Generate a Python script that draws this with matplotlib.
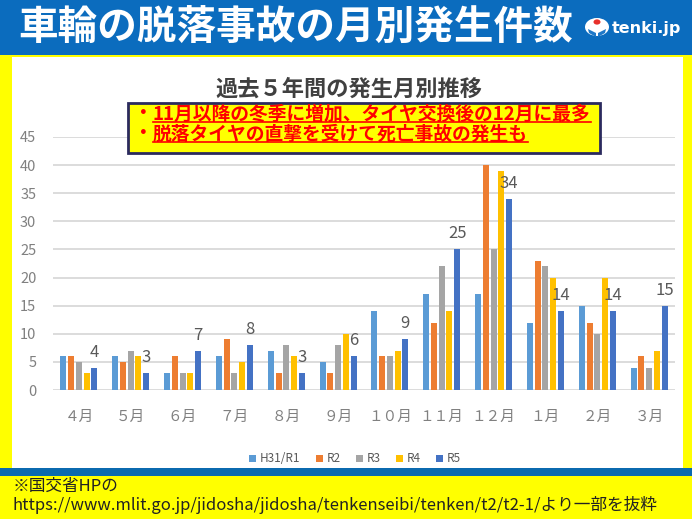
import matplotlib
matplotlib.use("Agg")
import matplotlib.pyplot as plt
import numpy as np
from matplotlib.patches import Rectangle, Circle, Polygon
from matplotlib.lines import Line2D

plt.rcParams['font.family'] = ['Noto Sans CJK JP', 'DejaVu Sans']

# data
months = ["４月", "５月", "６月", "７月", "８月", "９月", "１０月", "１１月", "１２月", "１月", "２月", "３月"]
years = ["H31/R1", "R2", "R3", "R4", "R5"]
h31_r1 = [6, 6, 3, 6, 7, 5, 14, 17, 17, 12, 15, 4]
r2 = [6, 5, 6, 9, 3, 3, 6, 12, 40, 23, 12, 6]
r3 = [5, 7, 3, 3, 8, 8, 6, 22, 25, 22, 10, 4]
r4 = [3, 6, 3, 5, 6, 10, 7, 14, 39, 20, 20, 7]
r5 = [4, 3, 7, 8, 3, 6, 9, 25, 34, 14, 14, 15]
colors = ["#5B9BD5", "#ED7D31", "#A5A5A5", "#FFC000", "#4472C4"]

W, H = 692, 519


def fx(x):
    return x / W


def fy(y):
    return 1 - y / H


fig = plt.figure(figsize=(W / 100, H / 100), dpi=100)
fig.patch.set_facecolor("white")

# frame: yellow border, blue title bar, footer
fig.add_artist(Rectangle((0, 0), 1, 1, transform=fig.transFigure, facecolor="#FFFF00", edgecolor="none", zorder=0))
fig.add_artist(Rectangle((fx(12), fy(468)), fx(683) - fx(12), fy(57) - fy(468), transform=fig.transFigure,
                         facecolor="white", edgecolor="none", zorder=0))
fig.add_artist(Rectangle((0, fy(55)), 1, 1 - fy(55), transform=fig.transFigure, facecolor="#0B6CBE", edgecolor="none", zorder=1))
fig.add_artist(Rectangle((0, fy(476)), 1, fy(468) - fy(476), transform=fig.transFigure, facecolor="#0B6AAF", edgecolor="none", zorder=1))

fig.text(fx(18), fy(28), "車輪の脱落事故の月別発生件数", color="white", fontsize=28.5, fontweight="bold",
         ha="left", va="center", zorder=3)

# tenki.jp logo
fig.add_artist(Circle((fx(597), fy(27)), 12 / W, transform=fig.transFigure, facecolor="white", edgecolor="none", zorder=3))
fig.add_artist(Circle((fx(597), fy(22)), 3.5 / W, transform=fig.transFigure, facecolor="#E8302A", edgecolor="none", zorder=4))
fig.add_artist(Polygon([(fx(588), fy(29)), (fx(596), fy(33)), (fx(596), fy(37)), (fx(589), fy(33))], closed=True,
                       transform=fig.transFigure, facecolor="#1E78C8", edgecolor="none", zorder=4))
fig.add_artist(Polygon([(fx(606), fy(29)), (fx(598), fy(33)), (fx(598), fy(37)), (fx(605), fy(33))], closed=True,
                       transform=fig.transFigure, facecolor="#1E78C8", edgecolor="none", zorder=4))
fig.text(fx(612), fy(29), "tenki.jp", color="white", fontsize=11.5, fontweight="bold", family="DejaVu Sans",
         ha="left", va="center", zorder=3)

# chart
ax = fig.add_axes([fx(53), fy(390), fx(675) - fx(53), fy(137) - fy(390)])
ax.set_facecolor("none")
x = np.arange(len(months))
series = [h31_r1, r2, r3, r4, r5]
step = 0.149
for i, (vals, name) in enumerate(zip(series, years)):
    ax.bar(x + (i - 2) * step, vals, width=0.116, color=colors[i], label=name, zorder=3)

for xi, v in zip(x, r5):
    ax.annotate(str(v), (xi + 2 * step, v), xytext=(0, 5), textcoords="offset points",
                ha="center", va="bottom", fontsize=12, color="#595959")

ax.set_xlim(-0.5, len(months) - 0.5)
ax.set_ylim(0, 45)
ax.set_yticks(range(0, 46, 5))
ax.grid(axis="y", color="#D9D9D9", linewidth=1.3, zorder=0)
for s in ax.spines.values():
    s.set_visible(False)
ax.tick_params(axis="y", length=0, pad=12, labelsize=10.5, labelcolor="#808080")
ax.tick_params(axis="x", length=0, pad=14, labelsize=10.5, labelcolor="#808080")
ax.set_xticks(x)
ax.set_xticklabels(months)

fig.legend(loc="center", bbox_to_anchor=(fx(355), fy(459)), ncol=5, frameon=False, fontsize=8.5,
           handlelength=0.6, handleheight=0.6, handletextpad=0.3, columnspacing=1.3, labelcolor="#595959")

fig.text(fx(349), fy(89), "過去５年間の発生月別推移", color="#404040", fontsize=16, fontweight="bold",
         ha="center", va="center")

# annotation box
fig.add_artist(Rectangle((fx(128), fy(153)), fx(600) - fx(128), fy(103) - fy(153), transform=fig.transFigure,
                         facecolor="#FFFF00", edgecolor="#2B2A5E", linewidth=2, zorder=5))
notes = ["11月以降の冬季に増加、タイヤ交換後の12月に最多", "脱落タイヤの直撃を受けて死亡事故の発生も"]
note_texts = []
for line, yy in zip(notes, [114, 134]):
    fig.text(fx(134), fy(yy), "・", color="#FF0000", fontsize=13.5, fontweight="bold", ha="left", va="center", zorder=6)
    t = fig.text(fx(153), fy(yy), line, color="#FF0000", fontsize=13.5, fontweight="bold", ha="left", va="center", zorder=6)
    note_texts.append(t)

# footer
fig.text(fx(13), fy(486), "※国交省HPの", color="#222222", fontsize=12, ha="left", va="center")
fig.text(fx(13), fy(505), "https://www.mlit.go.jp/jidosha/jidosha/tenkenseibi/tenken/t2/t2-1/より一部を抜粋",
         color="#222222", fontsize=12, ha="left", va="center")

# underline the red notes
fig.canvas.draw()
renderer = fig.canvas.get_renderer()
for t in note_texts:
    bb = t.get_window_extent(renderer)
    yl = (bb.y0 + 2) / H
    fig.add_artist(Line2D([bb.x0 / W, bb.x1 / W], [yl, yl], transform=fig.transFigure, color="#FF0000",
                          linewidth=1.2, zorder=6))

fig.savefig("out.png", dpi=100)
